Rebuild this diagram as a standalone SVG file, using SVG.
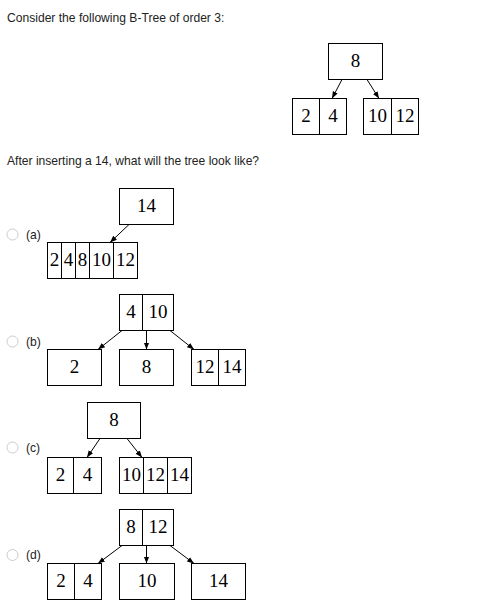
<svg xmlns="http://www.w3.org/2000/svg" width="496" height="610" viewBox="0 0 496 610">
<style>
.q{font-family:"Liberation Sans",Arial,sans-serif;font-size:12.1px;fill:#222}
.lbl{font-family:"Liberation Sans",Arial,sans-serif;font-size:12.1px;fill:#222}
.radio{fill:#fff;stroke:#ccc;stroke-width:1}
.box{fill:#fff;stroke:#000;stroke-width:1}
.div{stroke:#000;stroke-width:1}
.k{font-family:"Liberation Serif","Times New Roman",serif;font-size:19px;fill:#000;text-anchor:middle}
.e{stroke:#000;stroke-width:1;fill:none;marker-end:url(#ah)}
</style>
<defs>
<marker id="ah" markerUnits="userSpaceOnUse" markerWidth="8" markerHeight="6" refX="7" refY="3" orient="auto">
<path d="M0,0.3 L7,3 L0,5.7 z" fill="#000"/>
</marker>
</defs>
<rect width="496" height="610" fill="#fff"/>
<text class="q" x="7" y="22">Consider the following B-Tree of order 3:</text>
<text class="q" x="7" y="165">After inserting a 14, what will the tree look like?</text>

<!-- original tree -->
<g id="orig-root"><rect class="box" x="328.5" y="43.5" width="54" height="36"/><text class="k" x="355.5" y="67">8</text></g>
<g id="orig-left"><rect class="box" x="292.5" y="98.5" width="54" height="36"/><line class="div" x1="319.5" y1="98.5" x2="319.5" y2="134.5"/><text class="k" x="306" y="122">2</text><text class="k" x="333" y="122">4</text></g>
<g id="orig-right"><rect class="box" x="363.5" y="98.5" width="55" height="36"/><line class="div" x1="391.5" y1="98.5" x2="391.5" y2="134.5"/><text class="k" x="377.5" y="122">10</text><text class="k" x="405" y="122">12</text></g>

<!-- option a -->
<g id="opt-a-label"><circle class="radio" cx="12.5" cy="234.5" r="5.5"/><text class="lbl" x="26" y="238.5">(a)</text></g>
<g id="a-root"><rect class="box" x="119.5" y="188.5" width="54" height="36"/><text class="k" x="146.5" y="212">14</text></g>
<g id="a-leaf"><rect class="box" x="47.5" y="242.5" width="90" height="36"/>
<line class="div" x1="61.5" y1="242.5" x2="61.5" y2="278.5"/><line class="div" x1="75.5" y1="242.5" x2="75.5" y2="278.5"/><line class="div" x1="89.5" y1="242.5" x2="89.5" y2="278.5"/><line class="div" x1="113.5" y1="242.5" x2="113.5" y2="278.5"/>
<text class="k" x="54.5" y="266">2</text><text class="k" x="68.5" y="266">4</text><text class="k" x="82.5" y="266">8</text><text class="k" x="101.5" y="266">10</text><text class="k" x="125.5" y="266">12</text></g>

<!-- option b -->
<g id="opt-b-label"><circle class="radio" cx="12.5" cy="341.5" r="5.5"/><text class="lbl" x="26" y="345.5">(b)</text></g>
<g id="b-root"><rect class="box" x="119.5" y="294.5" width="54" height="36"/><line class="div" x1="142.5" y1="294.5" x2="142.5" y2="330.5"/><text class="k" x="131" y="318">4</text><text class="k" x="158" y="318">10</text></g>
<g id="b-left"><rect class="box" x="47.5" y="349.5" width="54" height="36"/><text class="k" x="74.5" y="373">2</text></g>
<g id="b-mid"><rect class="box" x="119.5" y="349.5" width="54" height="36"/><text class="k" x="146.5" y="373">8</text></g>
<g id="b-right"><rect class="box" x="191.5" y="349.5" width="54" height="36"/><line class="div" x1="218.5" y1="349.5" x2="218.5" y2="385.5"/><text class="k" x="205" y="373">12</text><text class="k" x="232" y="373">14</text></g>

<!-- option c -->
<g id="opt-c-label"><circle class="radio" cx="12.5" cy="447.5" r="5.5"/><text class="lbl" x="26" y="451.5">(c)</text></g>
<g id="c-root"><rect class="box" x="87.5" y="402.5" width="53" height="36"/><text class="k" x="114" y="426">8</text></g>
<g id="c-left"><rect class="box" x="47.5" y="457.5" width="54" height="36"/><line class="div" x1="73.5" y1="457.5" x2="73.5" y2="493.5"/><text class="k" x="60.5" y="481">2</text><text class="k" x="87.5" y="481">4</text></g>
<g id="c-right"><rect class="box" x="119.5" y="457.5" width="72" height="36"/><line class="div" x1="143.5" y1="457.5" x2="143.5" y2="493.5"/><line class="div" x1="167.5" y1="457.5" x2="167.5" y2="493.5"/><text class="k" x="131.5" y="481">10</text><text class="k" x="155.5" y="481">12</text><text class="k" x="179.5" y="481">14</text></g>

<!-- option d -->
<g id="opt-d-label"><circle class="radio" cx="12.5" cy="555" r="5.5"/><text class="lbl" x="26" y="559">(d)</text></g>
<g id="d-root"><rect class="box" x="119.5" y="509.5" width="54" height="36"/><line class="div" x1="142.5" y1="509.5" x2="142.5" y2="545.5"/><text class="k" x="131" y="533">8</text><text class="k" x="158" y="533">12</text></g>
<g id="d-left"><rect class="box" x="47.5" y="563.5" width="54" height="36"/><line class="div" x1="74.5" y1="563.5" x2="74.5" y2="599.5"/><text class="k" x="61" y="587">2</text><text class="k" x="88" y="587">4</text></g>
<g id="d-mid"><rect class="box" x="119.5" y="563.5" width="55" height="36"/><text class="k" x="147" y="587">10</text></g>
<g id="d-right"><rect class="box" x="191.5" y="563.5" width="54" height="36"/><text class="k" x="218.5" y="587">14</text></g>

<g id="connectors">
<line class="e" x1="342" y1="79.5" x2="332" y2="98.5"/>
<line class="e" x1="367" y1="79.5" x2="379" y2="98.5"/>
<line class="e" x1="129" y1="224.5" x2="110" y2="242.5"/>
<line class="e" x1="122" y1="330.5" x2="98" y2="349.5"/>
<line class="e" x1="146.5" y1="330.5" x2="146.5" y2="349.5"/>
<line class="e" x1="170" y1="330.5" x2="194" y2="349.5"/>
<line class="e" x1="100" y1="438.5" x2="87" y2="457.5"/>
<line class="e" x1="127" y1="438.5" x2="142" y2="457.5"/>
<line class="e" x1="122" y1="545.5" x2="98" y2="563.5"/>
<line class="e" x1="146.5" y1="545.5" x2="146.5" y2="563.5"/>
<line class="e" x1="170" y1="545.5" x2="194" y2="563.5"/>
</g>
</svg>
